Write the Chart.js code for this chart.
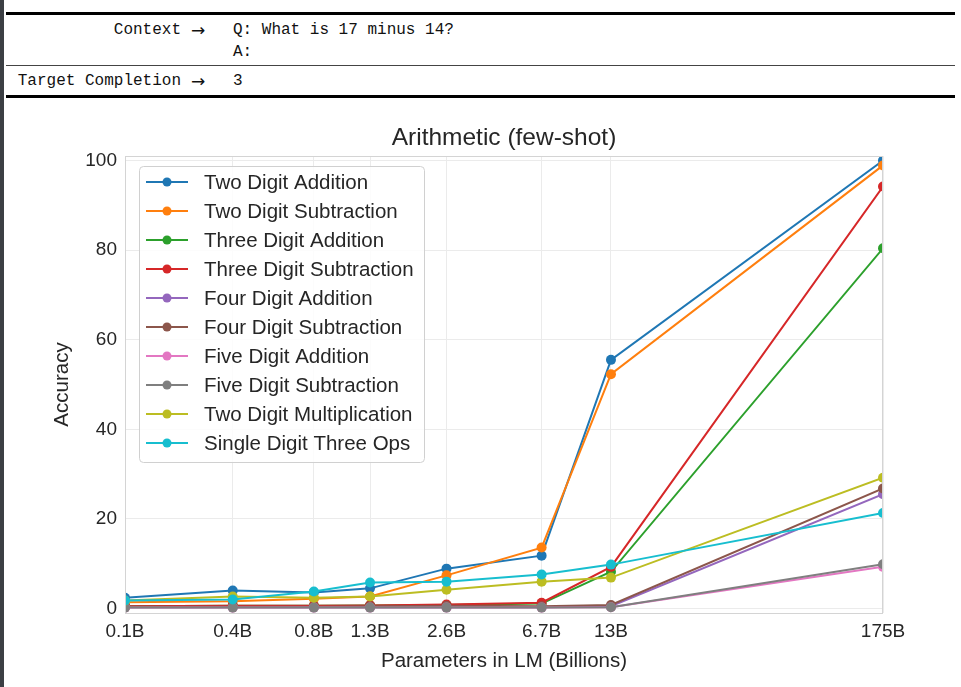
<!DOCTYPE html>
<html>
<head>
<meta charset="utf-8">
<script src="https://cdn.jsdelivr.net/npm/chart.js@4.4.0/dist/chart.umd.min.js"></script>
<style>
  html, body { margin: 0; padding: 0; background: #fff; }
  body { width: 961px; height: 687px; position: relative; overflow: hidden; }
  .rule { position: absolute; left: 6px; width: 949px; background: #000; }
  .tt { position: absolute; font: 16px "Liberation Mono", monospace; color: #111; line-height: 20px; white-space: pre; }
  .arrow { position: absolute; left: 191px; font: 17px "DejaVu Sans", sans-serif; color: #111; line-height: 20px; }
  #strip { position: absolute; left: 0; top: 0; width: 4px; height: 687px; background: #3c3f44; }
  #wrap { position: absolute; left: 0; top: 100px; width: 961px; height: 587px; }
</style>
</head>
<body>
<div id="strip"></div>
<div class="rule" style="top:12px;height:3px"></div>
<div class="rule" style="top:65px;height:1px;background:#444"></div>
<div class="rule" style="top:95px;height:3px"></div>
<div class="tt" style="left:0;width:181px;text-align:right;top:20px">Context</div>
<div class="arrow" style="top:20px">→</div>
<div class="tt" style="left:233px;top:20px">Q: What is 17 minus 14?</div>
<div class="tt" style="left:233px;top:42px">A:</div>
<div class="tt" style="left:0;width:181px;text-align:right;top:71px">Target Completion</div>
<div class="arrow" style="top:71px">→</div>
<div class="tt" style="left:233px;top:71px">3</div>
<div id="wrap"><canvas id="arithChart" width="961" height="587"></canvas></div>
<script>
// model sizes (billions) and their tick labels
const modelSizes = [0.125, 0.35, 0.76, 1.3, 2.7, 6.7, 13, 175];
const tickLabels = ["0.1B", "0.4B", "0.8B", "1.3B", "2.6B", "6.7B", "13B", "175B"];
const yTicks = [0, 20, 40, 60, 80, 100];

const seriesNames = [
  "Two Digit Addition",
  "Two Digit Subtraction",
  "Three Digit Addition",
  "Three Digit Subtraction",
  "Four Digit Addition",
  "Four Digit Subtraction",
  "Five Digit Addition",
  "Five Digit Subtraction",
  "Two Digit Multiplication",
  "Single Digit Three Ops",
];

const twoDigitAdd = [2.4, 4.0, 3.6, 4.5, 8.9, 11.8, 55.5, 100.0];
const twoDigitSub = [1.4, 1.6, 2.2, 2.7, 7.4, 13.6, 52.3, 98.9];
const threeDigitAdd = [0.5, 0.6, 0.6, 0.7, 0.8, 1.1, 8.2, 80.4];
const threeDigitSub = [0.5, 0.6, 0.6, 0.7, 0.9, 1.3, 9.3, 94.2];
const fourDigitAdd = [0.3, 0.3, 0.3, 0.3, 0.3, 0.3, 0.5, 25.5];
const fourDigitSub = [0.4, 0.4, 0.4, 0.5, 0.6, 0.5, 0.8, 26.8];
const fiveDigitAdd = [0.2, 0.2, 0.2, 0.2, 0.2, 0.2, 0.3, 9.3];
const fiveDigitSub = [0.2, 0.2, 0.2, 0.2, 0.2, 0.2, 0.3, 9.9];
const twoDigitMul = [1.8, 2.7, 2.4, 2.7, 4.2, 6.0, 6.9, 29.2];
const singleDigitThreeOps = [1.8, 2.0, 3.8, 5.8, 6.0, 7.6, 9.8, 21.3];

const seriesValues = [
  twoDigitAdd, twoDigitSub, threeDigitAdd, threeDigitSub, fourDigitAdd,
  fourDigitSub, fiveDigitAdd, fiveDigitSub, twoDigitMul, singleDigitThreeOps,
];

const colors = [
  "#1f77b4", "#ff7f0e", "#2ca02c", "#d62728", "#9467bd",
  "#8c564b", "#e377c2", "#7f7f7f", "#bcbd22", "#17becf",
];

const FONT = "'Liberation Sans', Arial, sans-serif";
const TEXT = "#262626";

// title, frame and in-axes legend
const decorations = {
  id: "decorations",
  afterDraw(chart) {
    const { ctx, chartArea: a } = chart;
    ctx.save();
    ctx.strokeStyle = "#d4d4d4";
    ctx.lineWidth = 1;
    ctx.strokeRect(a.left + 0.5, a.top + 0.5, a.right - a.left - 1, a.bottom - a.top);

    ctx.fillStyle = TEXT;
    ctx.font = "24.5px " + FONT;
    ctx.textAlign = "center";
    ctx.textBaseline = "middle";
    ctx.fillText("Arithmetic (few-shot)", (a.left + a.right) / 2, 38);

    // legend
    const bx = 139, by = 66, bw = 285, bh = 296;
    ctx.beginPath();
    ctx.roundRect(bx + 0.5, by + 0.5, bw, bh, 4);
    ctx.fillStyle = "rgba(255,255,255,0.85)";
    ctx.fill();
    ctx.strokeStyle = "#d0d0d0";
    ctx.stroke();

    ctx.font = "20.5px " + FONT;
    ctx.textAlign = "left";
    chart.data.datasets.forEach((ds, i) => {
      const y = by + 16 + i * 29;
      ctx.strokeStyle = ds.borderColor;
      ctx.lineWidth = 2;
      ctx.beginPath();
      ctx.moveTo(146, y);
      ctx.lineTo(188, y);
      ctx.stroke();
      ctx.fillStyle = ds.borderColor;
      ctx.beginPath();
      ctx.arc(167, y, 4.5, 0, Math.PI * 2);
      ctx.fill();
      ctx.fillStyle = TEXT;
      ctx.fillText(ds.label, 204, y + 1);
    });
    ctx.restore();
  },
};

const ctx = document.getElementById("arithChart").getContext("2d");
const arithChart = new Chart(ctx, {
  type: "line",
  data: {
    datasets: seriesNames.map((name, i) => ({
      label: name,
      data: seriesValues[i].map((v, j) => ({ x: modelSizes[j], y: v })),
      borderColor: colors[i],
      backgroundColor: colors[i],
      pointBackgroundColor: colors[i],
      pointBorderWidth: 0,
      pointRadius: 5,
      borderWidth: 2,
      tension: 0,
      order: -i,
    })),
  },
  options: {
    responsive: false,
    animation: false,
    layout: { padding: { left: 0, right: 78, top: 56, bottom: 0 } },
    plugins: {
      legend: { display: false },
      title: { display: false },
      tooltip: { enabled: false },
    },
    scales: {
      x: {
        type: "logarithmic",
        min: 0.125,
        max: 175,
        afterBuildTicks: (scale) => {
          scale.ticks = modelSizes.map((v) => ({ value: v }));
        },
        afterFit: (scale) => {
          scale.height = 74;
        },
        grid: { color: "#ebebeb", drawTicks: false },
        border: { display: false },
        ticks: {
          autoSkip: false,
          maxRotation: 0,
          padding: 7,
          color: TEXT,
          font: { family: FONT, size: 19 },
          callback: (value, index) => tickLabels[index],
        },
        title: {
          display: true,
          text: "Parameters in LM (Billions)",
          color: TEXT,
          font: { family: FONT, size: 20.5 },
          padding: { top: 0, bottom: 13 },
        },
      },
      y: {
        min: -1,
        max: 101,
        afterBuildTicks: (scale) => {
          scale.ticks = yTicks.map((v) => ({ value: v }));
        },
        afterFit: (scale) => {
          scale.width = 125;
        },
        grid: { color: "#ebebeb", drawTicks: false },
        border: { display: false },
        ticks: {
          padding: 8,
          color: TEXT,
          font: { family: FONT, size: 19 },
        },
        title: {
          display: true,
          text: "Accuracy",
          color: TEXT,
          font: { family: FONT, size: 20.5 },
          padding: { top: 50, bottom: 0 },
        },
      },
    },
  },
  plugins: [decorations],
});
</script>
</body>
</html>
